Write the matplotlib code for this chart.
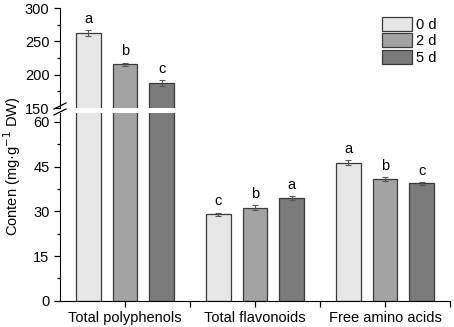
import numpy as np
import matplotlib.pyplot as plt
from matplotlib.ticker import MultipleLocator

plt.rcParams['font.family'] = ['Liberation Sans', 'DejaVu Sans']
plt.rcParams['font.size'] = 10.5

# Dados
categorias = ['Total polyphenols', 'Total flavonoids', 'Free amino acids']
series = ['0 d', '2 d', '5 d']
val_0d = [262.5, 29.0, 46.3]
val_2d = [215.5, 31.2, 40.8]
val_5d = [187.5, 34.4, 39.4]
err_0d = [4.0, 0.6, 0.8]
err_2d = [2.5, 0.8, 0.6]
err_5d = [4.5, 0.6, 0.4]
letras_0d = ['a', 'c', 'a']
letras_2d = ['b', 'b', 'b']
letras_5d = ['c', 'a', 'c']

valores = [val_0d, val_2d, val_5d]
erros = [err_0d, err_2d, err_5d]
letras = [letras_0d, letras_2d, letras_5d]
cores = ['#e6e6e6', '#a3a3a3', '#7b7b7b']

W, H = 454, 327
fs = 10.5
fig = plt.figure(figsize=(W / 100, H / 100), dpi=100)
esq, larg = 60 / W, 390 / W
ax_top = fig.add_axes([esq, 1 - 108 / H, larg, 100 / H])
ax_bot = fig.add_axes([esq, 1 - 300.7 / H, larg, (300.7 - 113) / H])

x = np.arange(len(categorias))
largura = 0.19
desloc = 0.282

for ax in (ax_top, ax_bot):
    for i in range(3):
        xi = x + (i - 1) * desloc
        ax.bar(xi, valores[i], largura, color=cores[i], edgecolor='#3a3a3a',
               linewidth=0.9, label=series[i], zorder=2)
        ax.errorbar(xi, valores[i], yerr=erros[i], fmt='none', ecolor='#555555',
                    elinewidth=0.8, capsize=2.5, capthick=0.8, zorder=3)
    ax.set_xlim(-0.5, 2.5)
    ax.spines['top'].set_visible(False)
    ax.spines['right'].set_visible(False)
    ax.tick_params(direction='out', length=4, width=0.9, labelsize=fs)
    ax.tick_params(which='minor', direction='out', length=2.5, width=0.9)

# letras de significância
for i in range(3):
    for j in range(3):
        v = valores[i][j]
        ax = ax_top if v > 150 else ax_bot
        ax.annotate(letras[i][j], (x[j] + (i - 1) * desloc, v + erros[i][j]),
                    xytext=(0, 3), textcoords='offset points',
                    ha='center', va='bottom', fontsize=fs)

ax_top.set_ylim(150, 300)
ax_top.yaxis.set_major_locator(MultipleLocator(50))
ax_top.yaxis.set_minor_locator(MultipleLocator(25))
ax_top.spines['bottom'].set_visible(False)
ax_top.set_xticks([])

ax_bot.set_ylim(0, 63)
ax_bot.set_yticks([0, 15, 30, 45, 60])
ax_bot.yaxis.set_minor_locator(MultipleLocator(7.5))
ax_bot.set_xticks(x)
ax_bot.set_xticklabels(categorias)
ax_bot.set_xticks([0.5, 1.5, 2.5], minor=True)
ax_bot.tick_params(axis='x', which='minor', length=4)

# marca de quebra do eixo
for yb in (106, 112):
    fig.add_artist(plt.Line2D([(esq * W - 6) / W, (esq * W + 6) / W],
                              [1 - (yb + 3) / H, 1 - (yb - 3) / H],
                              color='black', lw=0.9))

fig.text(12 / W, 1 - 166 / H, 'Conten (mg·g$^{-1}$ DW)', rotation=90,
         ha='center', va='center', fontsize=fs)

ax_top.legend(loc='upper left', bbox_to_anchor=(382 / W, 1 - 17 / H),
              bbox_transform=fig.transFigure, frameon=False, fontsize=fs,
              handlelength=2.05, handleheight=1.1, labelspacing=0.1,
              handletextpad=0.3, borderaxespad=0, borderpad=0)

plt.savefig('out.png', dpi=100)
